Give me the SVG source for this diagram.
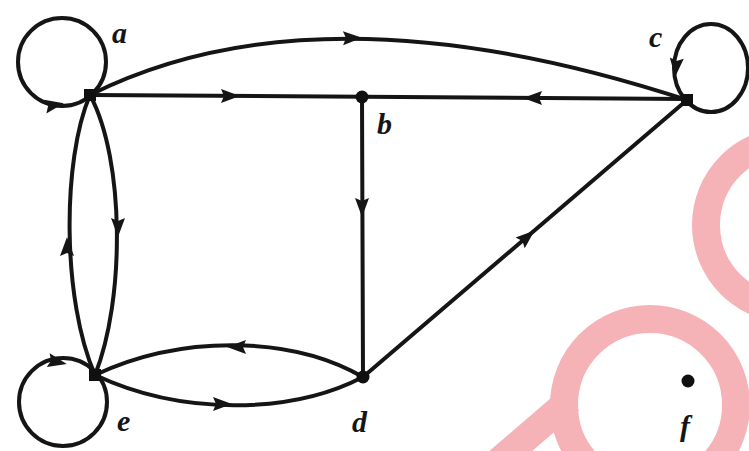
<svg xmlns="http://www.w3.org/2000/svg" width="749" height="451" viewBox="0 0 749 451">
<style>
.e{fill:none;stroke:#151515;stroke-width:4;stroke-linecap:round}
.wm{fill:none;stroke:#f5b2b7;stroke-width:28}
.lbl{font-family:"Liberation Serif",serif;font-style:italic;font-weight:bold;font-size:30px;fill:#151515}
.n{fill:#101010}
</style>
<defs>
<path id="ah" d="M10,0 L-9,-7 L-6,0 L-9,7 Z" fill="#151515"/>
</defs>
<rect width="749" height="451" fill="#fff"/>
<g id="watermark">
<circle class="wm" cx="650" cy="405" r="86"/>
<line class="wm" x1="498" y1="462" x2="570" y2="400"/>
<circle class="wm" cx="790" cy="225" r="84"/>
</g>
<g id="connectors">
<circle class="e" cx="62" cy="62" r="44"/>
<ellipse class="e" cx="711" cy="68" rx="37" ry="44"/>
<circle class="e" cx="63" cy="402" r="44"/>
<path class="e" d="M90,95 Q320,-20 687,100"/>
<line class="e" x1="90" y1="95" x2="687" y2="99"/>
<line class="e" x1="362" y1="97" x2="363" y2="377"/>
<line class="e" x1="363" y1="377" x2="687" y2="100"/>
<path class="e" d="M90,95 C62,160 62,300 95,375"/>
<path class="e" d="M90,95 C125,160 125,300 95,375"/>
<path class="e" d="M95,375 C180,335 290,335 363,377"/>
<path class="e" d="M95,375 C180,415 290,415 363,377"/>
<use href="#ah" transform="translate(230,96)"/>
<use href="#ah" transform="translate(533,98) rotate(180)"/>
<use href="#ah" transform="translate(352,38) rotate(-1)"/>
<use href="#ah" transform="translate(362,207) rotate(90)"/>
<use href="#ah" transform="translate(527,237) rotate(-40.5)"/>
<use href="#ah" transform="translate(118,227) rotate(90)"/>
<use href="#ah" transform="translate(67,247) rotate(-90)"/>
<use href="#ah" transform="translate(237,347) rotate(180)"/>
<use href="#ah" transform="translate(222,404)"/>
<use href="#ah" transform="translate(54,105) rotate(-10)"/>
<use href="#ah" transform="translate(57,362) rotate(12)"/>
<use href="#ah" transform="translate(676,67) rotate(95)"/>
</g>
<g id="node-a"><rect class="n" x="84" y="89" width="12" height="12"/><text class="lbl" x="112" y="43">a</text></g>
<g id="node-b"><circle class="n" cx="362" cy="97" r="6.5"/><text class="lbl" x="377" y="134">b</text></g>
<g id="node-c"><rect class="n" x="681" y="94" width="12" height="12"/><text class="lbl" x="649" y="47">c</text></g>
<g id="node-d"><circle class="n" cx="363" cy="377" r="6.5"/><text class="lbl" x="352" y="432">d</text></g>
<g id="node-e"><rect class="n" x="89" y="369" width="12" height="12"/><text class="lbl" x="117" y="431">e</text></g>
<g id="node-f"><circle class="n" cx="688" cy="381" r="6.5"/><text class="lbl" x="680" y="436">f</text></g>
</svg>
